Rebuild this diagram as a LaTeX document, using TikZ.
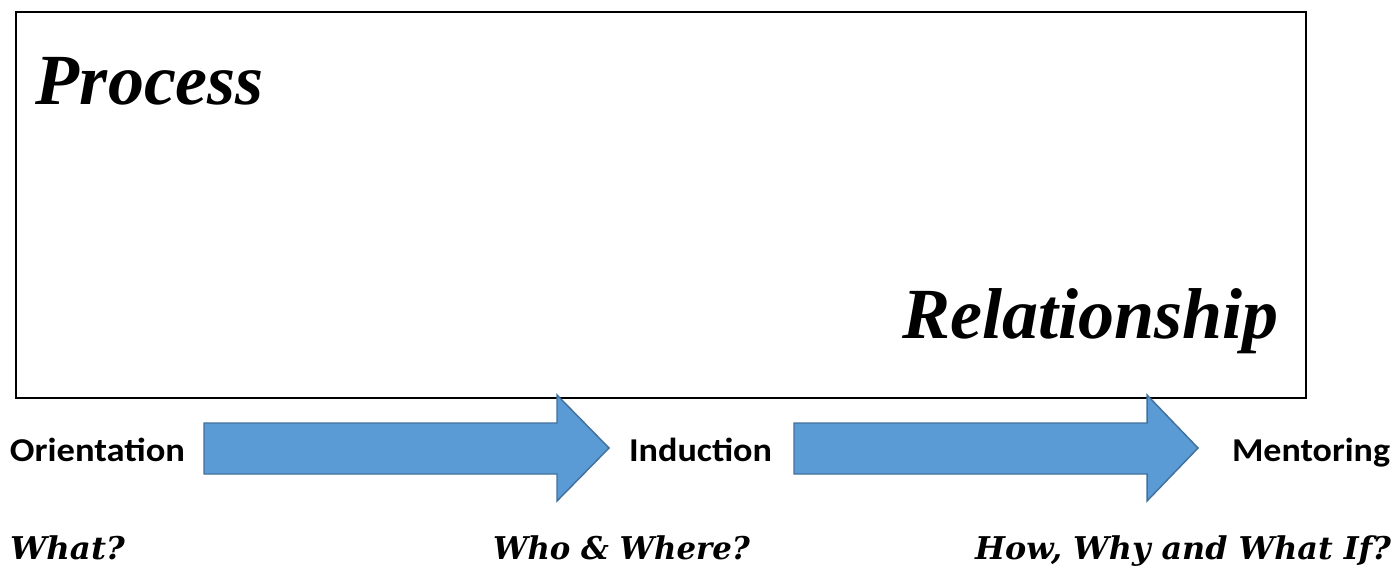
\documentclass[tikz,border=0pt]{standalone}
\usepackage{fontspec}
\usepackage{graphicx}
\newfontfamily\titlefont{Liberation Serif}
\newfontfamily\labfont{Carlito}
\newfontfamily\qfont{DejaVu Serif}
\definecolor{arrowfill}{HTML}{5B9BD5}
\definecolor{arrowline}{HTML}{41719C}
\begin{document}
\begin{tikzpicture}[x=0.75pt,y=-0.75pt,
  txt/.style={anchor=base west,inner sep=0pt,outer sep=0pt},
  title/.style={txt,font=\titlefont\bfseries\itshape\fontsize{54}{62}\selectfont},
  stage/.style={txt,font=\labfont\bfseries\fontsize{25}{30}\selectfont},
  question/.style={txt,font=\qfont\bfseries\itshape\fontsize{23.5}{28}\selectfont},
  blockarrow/.style={fill=arrowfill,draw=arrowline,line width=1.1pt,line join=miter},
  frame/.style={draw=black,line width=1.3pt}]
\useasboundingbox (0,0) rectangle (1394,569);
\fill[white] (0,0) rectangle (1394,569);
% frame
\draw[frame] (16,12) rectangle (1306,398);
\node[title] (process) at (36,104) {Process};
\node[title] (relationship) at (902,338) {Relationship};
% block arrows
\draw[blockarrow] (204,423) -- (557,423) -- (557,395) -- (609,448) -- (557,501) -- (557,474) -- (204,474) -- cycle;
\draw[blockarrow] (794,423) -- (1147,423) -- (1147,395) -- (1198,448) -- (1147,501) -- (1147,474) -- (794,474) -- cycle;
% stages
\node[stage] (orientation) at (10,461) {\resizebox{131.25pt}{\height}{Orientation}};
\node[stage] (induction) at (629,461) {\resizebox{107.25pt}{\height}{Induction}};
\node[stage] (mentoring) at (1232,461) {\resizebox{118.5pt}{\height}{Mentoring}};
% questions
\node[question] (what) at (10,559) {\resizebox{86.25pt}{\height}{What?}};
\node[question] (who) at (493,559) {\resizebox{192.75pt}{\height}{Who \& Where?}};
\node[question] (how) at (975,559) {\resizebox{312pt}{\height}{How, Why and What If?}};
\end{tikzpicture}
\end{document}
